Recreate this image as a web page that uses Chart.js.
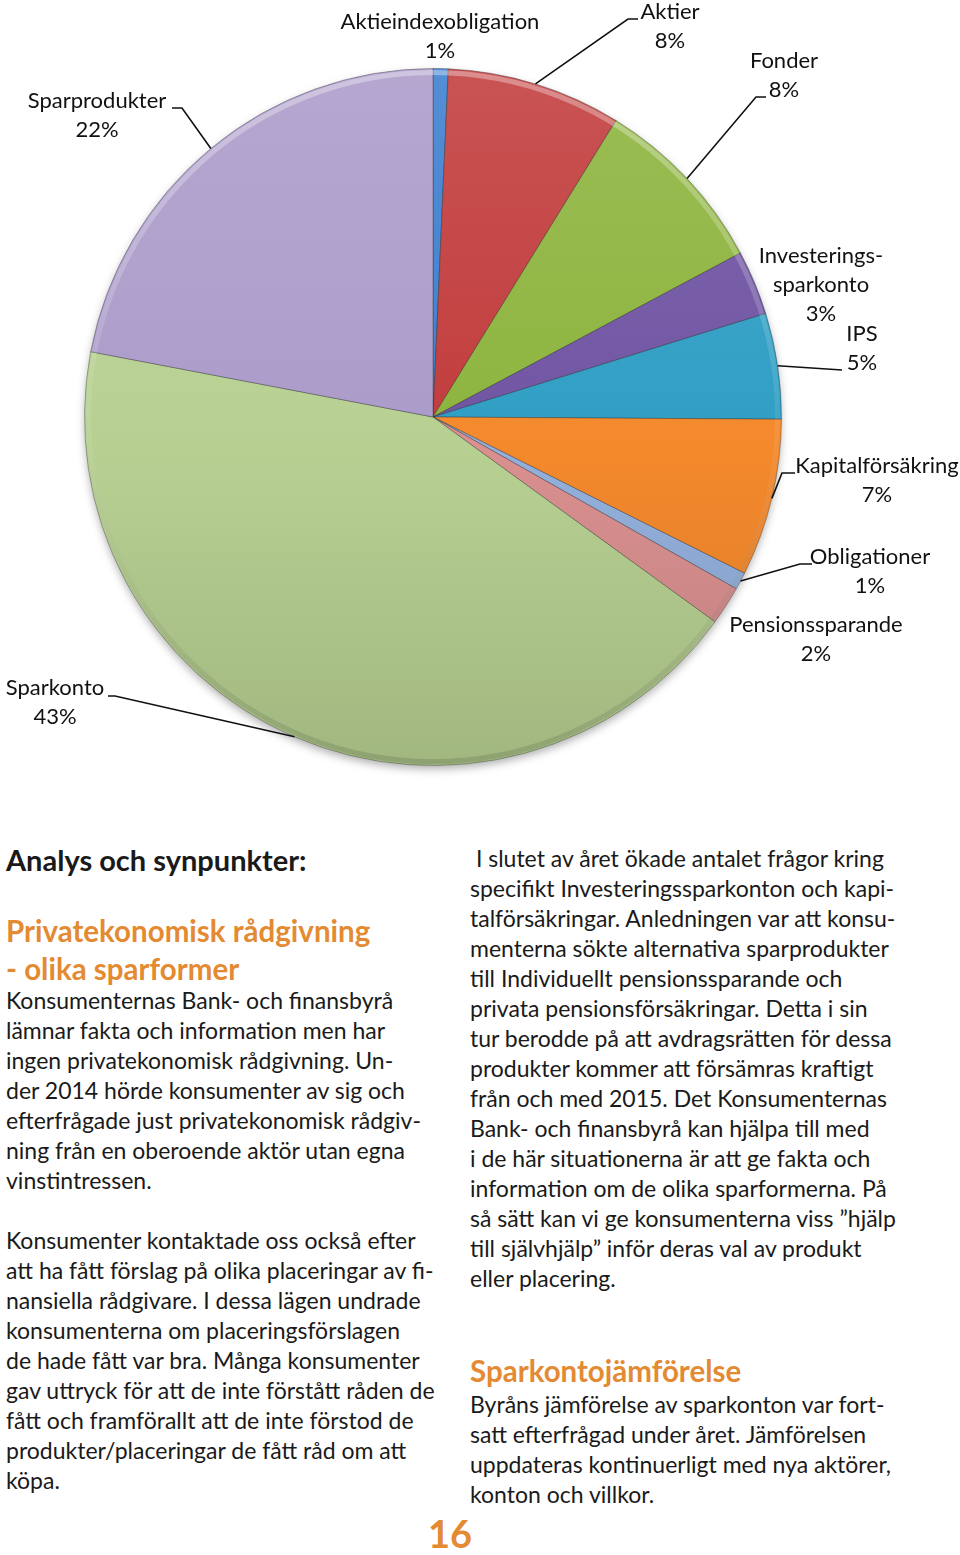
<!DOCTYPE html>
<html lang="sv">
<head>
<meta charset="utf-8">
<title>Sparformer</title>
<script src="https://cdn.jsdelivr.net/npm/chart.js@4.4.1/dist/chart.umd.min.js"></script>
<style>
  html, body { margin: 0; padding: 0; background: #fff; }
  body { width: 960px; height: 1555px; position: relative; overflow: hidden;
         font-family: "Lato", "Open Sans", sans-serif; color: #1a1a1a; }
  #pie { position: absolute; left: 0; top: 0; }
  .col { position: absolute; font-size: 23px; line-height: 30px; white-space: nowrap; }
  .col div { height: 30px; }
  .h1 { position: absolute; left: 6px; top: 842px; font-size: 29px; font-weight: 700; color: #1a1a1a; }
  .orange { color: #e38a33; font-weight: 700; }
  .h2 { position: absolute; font-size: 29.5px; line-height: 38px; white-space: nowrap; }
  .page { position: absolute; left: 428px; top: 1510px; font-size: 38px; }
</style>
</head>
<body>
<canvas id="pie" width="960" height="830"></canvas>

<div class="h1">Analys och synpunkter:</div>
<div class="h2 orange" style="left:6px; top:912px;">Privatekonomisk rådgivning<br>- olika sparformer</div>

<div class="col" style="left:6px; top:985px;">
  <div>Konsumenternas Bank- och finansbyrå</div>
  <div>lämnar fakta och information men har</div>
  <div>ingen privatekonomisk rådgivning. Un-</div>
  <div>der 2014 hörde konsumenter av sig och</div>
  <div>efterfrågade just privatekonomisk rådgiv-</div>
  <div>ning från en oberoende aktör utan egna</div>
  <div>vinstintressen.</div>
  <div></div>
  <div>Konsumenter kontaktade oss också efter</div>
  <div>att ha fått förslag på olika placeringar av fi-</div>
  <div>nansiella rådgivare. I dessa lägen undrade</div>
  <div>konsumenterna om placeringsförslagen</div>
  <div>de hade fått var bra. Många konsumenter</div>
  <div>gav uttryck för att de inte förstått råden de</div>
  <div>fått och framförallt att de inte förstod de</div>
  <div>produkter/placeringar de fått råd om att</div>
  <div>köpa.</div>
</div>

<div class="col" style="left:470px; top:843px;">
  <div>&nbsp;I slutet av året ökade antalet frågor kring</div>
  <div>specifikt Investeringssparkonton och kapi-</div>
  <div>talförsäkringar. Anledningen var att konsu-</div>
  <div>menterna sökte alternativa sparprodukter</div>
  <div>till Individuellt pensionssparande och</div>
  <div>privata pensionsförsäkringar. Detta i sin</div>
  <div>tur berodde på att avdragsrätten för dessa</div>
  <div>produkter kommer att försämras kraftigt</div>
  <div>från och med 2015. Det Konsumenternas</div>
  <div>Bank- och finansbyrå kan hjälpa till med</div>
  <div>i de här situationerna är att ge fakta och</div>
  <div>information om de olika sparformerna. På</div>
  <div>så sätt kan vi ge konsumenterna viss ”hjälp</div>
  <div>till självhjälp” inför deras val av produkt</div>
  <div>eller placering.</div>
</div>

<div class="h2 orange" style="left:470px; top:1352px;">Sparkontojämförelse</div>
<div class="col" style="left:470px; top:1389px;">
  <div>Byråns jämförelse av sparkonton var fort-</div>
  <div>satt efterfrågad under året. Jämförelsen</div>
  <div>uppdateras kontinuerligt med nya aktörer,</div>
  <div>konton och villkor.</div>
</div>

<div class="page orange">16</div>

<script>
// Sparformer - fördelning av frågor (procent)
const categories = [
    "Aktieindexobligation", "Aktier", "Fonder", "Investerings-\nsparkonto", "IPS",
    "Kapitalförsäkring", "Obligationer", "Pensionssparande", "Sparkonto", "Sparprodukter"
];
const shares = [0.7, 8.1, 8.4, 3.0, 4.9, 7.3, 0.8, 1.8, 43.0, 22.0];
const sliceColors = [
    "#3d7fcf", "#c23c3c", "#8db43e", "#7054a3", "#2f9ec4",
    "#f4892c", "#93b0dc", "#d9908f", "#b7d092", "#ab9bca"
];

// where each label sits, and the leader line points after the rim point
const labelPlaces = [
    { x: 440, y: 22,  leader: null },
    { x: 670, y: 12,  leader: [[628, 19], [638, 19]] },
    { x: 784, y: 61,  leader: [[756, 97], [766, 97]] },
    { x: 821, y: 256, leader: null },
    { x: 862, y: 334, leader: [[842, 370]] },
    { x: 877, y: 466, leader: [[782, 473], [795, 473]] },
    { x: 870, y: 557, leader: [[800, 564], [812, 564]] },
    { x: 816, y: 625, leader: null },
    { x: 55,  y: 688, leader: [[115, 696], [108, 696]] },
    { x: 97,  y: 101, leader: [[182, 108], [172, 108]] }
];

function shade(hex, amt) {
    const n = parseInt(hex.slice(1), 16);
    let r = n >> 16, g = (n >> 8) & 255, b = n & 255;
    const f = v => Math.max(0, Math.min(255, Math.round(amt > 0 ? v + (255 - v) * amt : v * (1 + amt))));
    return `rgb(${f(r)},${f(g)},${f(b)})`;
}

function sliceFill(ctx) {
    const chart = ctx.chart;
    const base = sliceColors[ctx.dataIndex];
    if (!chart.chartArea) return base;
    const { top, bottom } = chart.chartArea;
    const g = chart.ctx.createLinearGradient(0, top, 0, bottom);
    g.addColorStop(0, shade(base, 0.12));
    g.addColorStop(0.55, base);
    g.addColorStop(1, shade(base, -0.12));
    return g;
}

// soft shadow under the pie and a bevel on the rim
const pieShading = {
    id: "pieShading",
    beforeDatasetsDraw(chart) {
        const arc = chart.getDatasetMeta(0).data[0];
        if (!arc) return;
        const c = chart.ctx;
        c.save();
        c.shadowColor = "rgba(0,0,0,0.35)";
        c.shadowBlur = 10;
        c.shadowOffsetY = 4;
        c.fillStyle = "#999";
        c.beginPath();
        c.arc(arc.x, arc.y, arc.outerRadius - 1, 0, Math.PI * 2);
        c.fill();
        c.restore();
    },
    afterDatasetsDraw(chart) {
        const arc = chart.getDatasetMeta(0).data[0];
        if (!arc) return;
        const c = chart.ctx;
        const r = arc.outerRadius;
        const g = c.createLinearGradient(0, arc.y - r, 0, arc.y + r);
        g.addColorStop(0, "rgba(255,255,255,0.35)");
        g.addColorStop(0.5, "rgba(255,255,255,0.08)");
        g.addColorStop(1, "rgba(0,0,0,0.12)");
        c.save();
        c.strokeStyle = g;
        c.lineWidth = 5;
        c.beginPath();
        c.arc(arc.x, arc.y, r - 4, 0, Math.PI * 2);
        c.stroke();
        c.restore();
    }
};

// labels with leader lines
const pieLabels = {
    id: "pieLabels",
    afterDraw(chart) {
        const c = chart.ctx;
        const arcs = chart.getDatasetMeta(0).data;
        c.save();
        c.font = '22px "Lato", sans-serif';
        c.fillStyle = "#111";
        c.textAlign = "center";
        c.textBaseline = "middle";
        arcs.forEach((arc, i) => {
            const place = labelPlaces[i];
            if (place.leader) {
                const mid = (arc.startAngle + arc.endAngle) / 2;
                c.beginPath();
                c.moveTo(arc.x + Math.cos(mid) * arc.outerRadius, arc.y + Math.sin(mid) * arc.outerRadius);
                place.leader.forEach(p => c.lineTo(p[0], p[1]));
                c.strokeStyle = "#111";
                c.lineWidth = 1.6;
                c.stroke();
            }
            const lines = categories[i].split("\n");
            lines.push(Math.round(shares[i]) + "%");
            lines.forEach((t, k) => c.fillText(t, place.x, place.y + k * 29));
        });
        c.restore();
    }
};

new Chart(document.getElementById("pie"), {
    type: "pie",
    data: {
        labels: categories,
        datasets: [{
            data: shares,
            backgroundColor: sliceFill,
            borderColor: "rgba(40,40,40,0.35)",
            borderWidth: 1
        }]
    },
    options: {
        responsive: false,
        animation: false,
        layout: { padding: { left: 84, right: 178, top: 68, bottom: 64 } },
        plugins: {
            legend: { display: false },
            tooltip: { enabled: false }
        }
    },
    plugins: [pieShading, pieLabels]
});
</script>
</body>
</html>
